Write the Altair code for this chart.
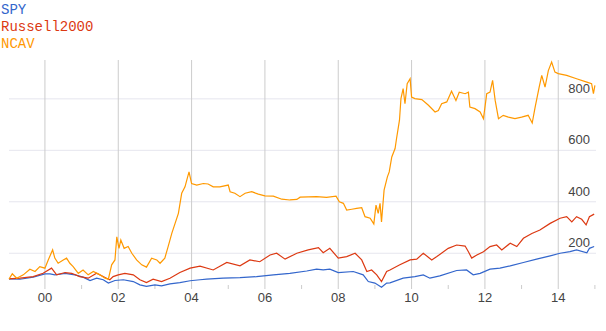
import altair as alt
import pandas as pd

# ---- data (decimal year, index value) ----
spy_t = [1999.02, 1999.32, 1999.68, 2000.00, 2000.14, 2000.27, 2000.55, 2000.82, 2001.04, 2001.23,
         2001.41, 2001.59, 2001.73, 2001.91, 2002.14, 2002.41, 2002.59, 2002.77, 2003.00, 2003.18,
         2003.41, 2003.68, 2003.96, 2004.23, 2004.41, 2004.86, 2005.32, 2005.77, 2006.23, 2006.68,
         2007.14, 2007.41, 2007.59, 2007.77, 2008.00, 2008.41, 2008.68, 2008.82, 2009.00, 2009.18,
         2009.32, 2009.41, 2009.77, 2010.09, 2010.32, 2010.50, 2010.77, 2011.23, 2011.50, 2011.68,
         2011.87, 2012.14, 2012.41, 2012.69, 2013.05, 2013.41, 2013.78, 2014.05, 2014.32, 2014.50,
         2014.78, 2014.85, 2014.98]
spy_v = [100, 99, 107, 120, 120, 116, 122, 116, 107, 94,
         103, 97, 84, 94, 97, 90, 77, 71, 77, 73,
         81, 86, 93, 97, 99, 103, 105, 109, 116, 122,
         131, 138, 135, 138, 125, 129, 116, 90, 84, 68,
         84, 85, 103, 109, 116, 103, 112, 133, 135, 116,
         122, 138, 142, 151, 164, 177, 190, 200, 206, 213,
         202, 219, 226]

rut_t = [1999.02, 1999.32, 1999.68, 1999.95, 2000.18, 2000.32, 2000.55, 2000.73, 2000.95, 2001.18,
         2001.41, 2001.68, 2001.77, 2001.86, 2002.00, 2002.18, 2002.41, 2002.59, 2002.77, 2002.95,
         2003.18, 2003.41, 2003.68, 2003.96, 2004.23, 2004.59, 2004.96, 2005.32, 2005.59, 2005.86,
         2006.14, 2006.32, 2006.55, 2006.87, 2007.18, 2007.46, 2007.59, 2007.77, 2008.00, 2008.23,
         2008.46, 2008.64, 2008.78, 2008.91, 2009.05, 2009.18, 2009.32, 2009.41, 2009.68, 2009.96,
         2010.14, 2010.32, 2010.55, 2010.69, 2011.00, 2011.23, 2011.46, 2011.55, 2011.64, 2011.78,
         2011.96, 2012.14, 2012.32, 2012.46, 2012.69, 2012.87, 2013.05, 2013.28, 2013.50, 2013.78,
         2014.05, 2014.23, 2014.37, 2014.50, 2014.64, 2014.76, 2014.85, 2014.98]
rut_v = [100, 103, 109, 122, 142, 116, 125, 122, 109, 103,
         122, 103, 97, 109, 116, 122, 116, 97, 86, 99,
         90, 103, 125, 142, 150, 135, 164, 151, 174, 167,
         193, 200, 177, 200, 213, 222, 202, 219, 181, 187,
         200, 174, 129, 135, 116, 90, 129, 135, 155, 174,
         177, 200, 174, 187, 219, 232, 228, 206, 181, 193,
         206, 226, 232, 213, 239, 226, 258, 277, 290, 316,
         336, 342, 322, 342, 332, 310, 342, 352]

ncav_t = [1999.02, 1999.11, 1999.23, 1999.41, 1999.59, 1999.73, 1999.86, 2000.00, 2000.09, 2000.21,
          2000.27, 2000.36, 2000.50, 2000.59, 2000.68, 2000.77, 2000.91, 2001.04, 2001.18, 2001.32,
          2001.50, 2001.64, 2001.73, 2001.82, 2001.91, 2001.96, 2002.02, 2002.07, 2002.16, 2002.27,
          2002.37, 2002.50, 2002.64, 2002.77, 2002.91, 2003.05, 2003.14, 2003.27, 2003.36, 2003.46,
          2003.55, 2003.64, 2003.73, 2003.82, 2003.88, 2003.93, 2004.00, 2004.14, 2004.32, 2004.45,
          2004.59, 2004.77, 2005.00, 2005.05, 2005.18, 2005.32, 2005.46, 2005.64, 2005.82, 2006.00,
          2006.23, 2006.46, 2006.68, 2006.87, 2006.96, 2007.41, 2007.68, 2007.94, 2008.03, 2008.14,
          2008.23, 2008.37, 2008.50, 2008.64, 2008.73, 2008.87, 2008.97, 2009.03, 2009.09, 2009.14,
          2009.18, 2009.25, 2009.34, 2009.39, 2009.46, 2009.55, 2009.59, 2009.67, 2009.71, 2009.77,
          2009.82, 2009.88, 2009.96, 2010.00, 2010.09, 2010.28, 2010.46, 2010.64, 2010.73, 2010.82,
          2010.96, 2011.09, 2011.21, 2011.30, 2011.46, 2011.55, 2011.59, 2011.73, 2011.87, 2011.96,
          2012.05, 2012.14, 2012.21, 2012.28, 2012.37, 2012.50, 2012.64, 2012.82, 2013.00, 2013.18,
          2013.29, 2013.37, 2013.48, 2013.55, 2013.64, 2013.73, 2013.82, 2013.91, 2014.00, 2014.23,
          2014.50, 2014.78, 2014.91, 2014.96, 2015.00]
ncav_v = [100, 120, 103, 116, 138, 129, 148, 142, 174, 213,
          181, 161, 174, 181, 161, 148, 122, 135, 116, 129,
          116, 103, 99, 155, 174, 264, 219, 251, 219, 226,
          200, 174, 155, 146, 181, 174, 161, 181, 226, 277,
          316, 355, 433, 458, 490, 516, 471, 465, 471, 469,
          458, 458, 465, 439, 433, 420, 433, 439, 430, 423,
          422, 410, 407, 409, 418, 420, 417, 422, 400, 394,
          368, 371, 374, 377, 342, 336, 314, 387, 355, 394,
          322, 445, 497, 516, 574, 607, 646, 717, 801, 840,
          781, 859, 878, 807, 801, 797, 775, 749, 755, 781,
          788, 830, 794, 826, 820, 826, 768, 762, 749, 723,
          820, 826, 872, 794, 723, 736, 729, 723, 729, 736,
          706, 768, 846, 891, 846, 910, 943, 904, 898, 891,
          878, 865, 859, 820, 852]

series_names = ["SPY", "Russell2000", "NCAV"]
series_colors = ["#3366cc", "#dc3912", "#ff9900"]

major_years = [2000, 2002, 2004, 2006, 2008, 2010, 2012, 2014]
major_labels = ["00", "02", "04", "06", "08", "10", "12", "14"]
minor_years = [2001, 2003, 2005, 2007, 2009, 2011, 2013, 2015]
y_ticks = [200, 400, 600, 800]

W, H = 587, 229
xs = alt.Scale(domain=[1999.02, 2015.03], nice=False, zero=False)
ys = alt.Scale(domain=[61, 951], nice=False, zero=False)
LABEL_FONT = "Liberation Sans"
LABEL_COLOR = "#444444"

hgrid = alt.Chart(pd.DataFrame({"v": y_ticks})).mark_rule(color="#e6e6ee", strokeWidth=1).encode(
    y=alt.Y("v:Q", scale=ys, axis=None), x=alt.value(0), x2=alt.value(W))
vgrid = alt.Chart(pd.DataFrame({"t": major_years})).mark_rule(color="#cccccc", strokeWidth=1).encode(
    x=alt.X("t:Q", scale=xs, axis=None), y=alt.value(0), y2=alt.value(H))
minor = alt.Chart(pd.DataFrame({"t": minor_years})).mark_rule(color="#cccccc", strokeWidth=1).encode(
    x=alt.X("t:Q", scale=xs, axis=None), y=alt.value(H - 4), y2=alt.value(H))
xlab = alt.Chart(pd.DataFrame({"t": major_years, "lab": major_labels})).mark_text(
    font=LABEL_FONT, fontSize=13, color=LABEL_COLOR, align="center", baseline="alphabetic").encode(
    x=alt.X("t:Q", scale=xs, axis=None), y=alt.value(H + 13), text="lab:N")
ylab = alt.Chart(pd.DataFrame({"v": y_ticks})).mark_text(
    font=LABEL_FONT, fontSize=13, color=LABEL_COLOR, align="right", baseline="alphabetic", dy=-6).encode(
    y=alt.Y("v:Q", scale=ys, axis=None), x=alt.value(W - 6), text=alt.Text("v:Q"))


def line(ts, vs, color):
    df = pd.DataFrame({"t": ts, "v": vs})
    return alt.Chart(df).mark_line(color=color, strokeWidth=1.2).encode(
        x=alt.X("t:Q", scale=xs, axis=None),
        y=alt.Y("v:Q", scale=ys, axis=None),
        order="t:Q")


lines = [line(spy_t, spy_v, series_colors[0]),
         line(rut_t, rut_v, series_colors[1]),
         line(ncav_t, ncav_v, series_colors[2])]

legend = []
for i, (name, col) in enumerate(zip(series_names, series_colors)):
    legend.append(alt.Chart(pd.DataFrame({"n": [name]})).mark_text(
        font="'Courier New', 'Liberation Mono', Courier, monospace", fontSize=14, color=col,
        align="left", baseline="alphabetic").encode(
        x=alt.value(-8), y=alt.value(-46 + 17 * i), text="n:N"))

chart = alt.layer(hgrid, vgrid, minor, *lines, xlab, ylab, *legend).properties(
    width=W, height=H,
    padding={"left": 9, "top": 60, "right": 10, "bottom": 42},
    autosize=alt.AutoSizeParams(type="none"),
    background="white",
).configure_view(stroke=None)

chart.save("out.html", embed_options={"renderer": "svg", "actions": False})
